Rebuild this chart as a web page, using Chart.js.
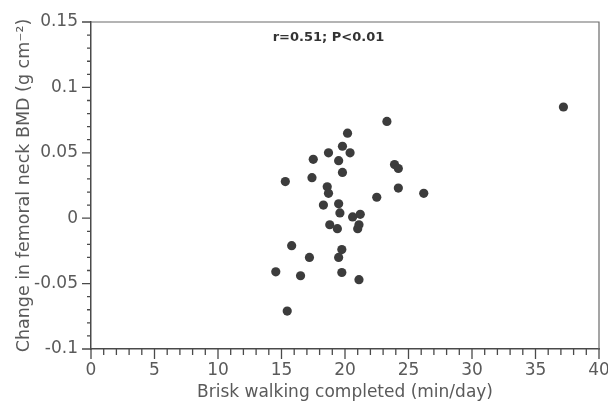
<!DOCTYPE html>
<html>
<head>
<meta charset="utf-8">
<script src="https://cdn.jsdelivr.net/npm/chart.js@4/dist/chart.umd.min.js"></script>
<style>
  html, body { margin: 0; padding: 0; background: #fff; }
  #wrap { width: 608px; height: 403px; }
</style>
</head>
<body>
<div id="wrap"><canvas id="c" width="608" height="403"></canvas></div>
<script>
// Brisk walking completed (min/day)
const walkMinutes = [15.3, 17.5, 18.7, 20.2, 19.8, 20.4, 19.5, 19.8, 17.4, 23.3, 23.9, 24.2, 24.2, 22.5, 26.2, 37.2,
  18.6, 18.7, 18.3, 19.5, 19.6, 20.6, 21.2, 21.1, 21.0, 18.8, 19.4, 15.8, 17.2, 16.5, 19.75, 19.5, 19.75, 21.1, 15.45, 14.55];
// Change in femoral neck BMD (g cm-2)
const bmdChange = [0.028, 0.045, 0.050, 0.065, 0.055, 0.050, 0.044, 0.035, 0.031, 0.074, 0.041, 0.038, 0.023, 0.016, 0.019, 0.085,
  0.024, 0.019, 0.010, 0.011, 0.004, 0.001, 0.003, -0.005, -0.008, -0.005, -0.008, -0.021, -0.030, -0.044, -0.024, -0.030, -0.0415, -0.047, -0.071, -0.041];

const xTickValues = [0, 5, 10, 15, 20, 25, 30, 35, 40];
const xTickLabels = ['0', '5', '10', '15', '20', '25', '30', '35', '40'];
const yTickValues = [-0.1, -0.05, 0, 0.05, 0.1, 0.15];
const yTickLabels = ['-0.1', '-0.05', '0', '0.05', '0.1', '0.15'];
const annotationText = 'r=0.51; P<0.01';

const points = walkMinutes.map((x, i) => ({ x: x, y: bmdChange[i] }));

const FONT = 'DejaVu Sans';
const TXT = '#5a5a5a';
const AX = '#4a4a4a';

const decor = {
  id: 'decor',
  afterDraw(chart) {
    const ctx = chart.ctx;
    const ca = chart.chartArea;
    const xs = chart.scales.x, ys = chart.scales.y;
    ctx.save();
    // frame top & right
    ctx.strokeStyle = '#6a6a6a';
    ctx.lineWidth = 1.2;
    ctx.beginPath();
    ctx.moveTo(ca.left, ca.top);
    ctx.lineTo(ca.right, ca.top);
    ctx.lineTo(ca.right, ca.bottom);
    ctx.stroke();
    // ticks
    ctx.strokeStyle = AX;
    ctx.lineWidth = 1.3;
    ctx.beginPath();
    for (let v = 0; v <= 40; v++) {
      const px = xs.getPixelForValue(v);
      const len = (v % 5 === 0) ? 10 : 6;
      ctx.moveTo(px, ca.bottom);
      ctx.lineTo(px, ca.bottom + len);
    }
    for (let k = -10; k <= 15; k++) {
      const py = ys.getPixelForValue(k / 100);
      const len = (k % 5 === 0) ? 9 : 4;
      ctx.moveTo(ca.left, py);
      ctx.lineTo(ca.left - len, py);
    }
    ctx.stroke();
    // annotation
    ctx.fillStyle = '#333';
    ctx.font = 'bold 13px "' + FONT + '"';
    ctx.textAlign = 'center';
    ctx.textBaseline = 'middle';
    ctx.fillText(annotationText, xs.getPixelForValue(18.7), ys.getPixelForValue(0.138));
    ctx.restore();
  }
};

new Chart(document.getElementById('c'), {
  type: 'scatter',
  data: {
    datasets: [{
      data: points,
      pointRadius: 4.6,
      pointHoverRadius: 4.6,
      backgroundColor: '#3c3c3c',
      borderWidth: 0
    }]
  },
  options: {
    responsive: false,
    animation: false,
    devicePixelRatio: 1,
    layout: { padding: { top: 22, right: 9, left: 0, bottom: 0 } },
    plugins: { legend: { display: false }, tooltip: { enabled: false } },
    scales: {
      x: {
        type: 'linear',
        min: 0, max: 40,
        afterFit(s) { s.height = 54; s.paddingLeft = 0; s.paddingRight = 0; },
        afterBuildTicks(s) { s.ticks = xTickValues.map(v => ({ value: v })); },
        ticks: {
          padding: 11,
          color: TXT,
          font: { family: FONT, size: 17 },
          maxRotation: 0,
          autoSkip: false,
          callback(v) { const i = xTickValues.indexOf(v); return i >= 0 ? xTickLabels[i] : ''; }
        },
        grid: { display: true, drawOnChartArea: false, drawTicks: false },
        border: { display: true, color: AX, width: 1.5 },
        title: {
          display: true,
          text: 'Brisk walking completed (min/day)',
          color: TXT,
          font: { family: FONT, size: 17 },
          padding: { top: 0, bottom: 0 }
        }
      },
      y: {
        type: 'linear',
        min: -0.1, max: 0.15,
        afterFit(s) { s.width = 91; s.paddingTop = 0; s.paddingBottom = 0; },
        afterBuildTicks(s) { s.ticks = yTickValues.map(v => ({ value: v })); },
        ticks: {
          padding: 13,
          color: TXT,
          font: { family: FONT, size: 17 },
          autoSkip: false,
          callback(v) {
            let idx = -1;
            yTickValues.forEach((t, i) => { if (Math.abs(t - v) < 1e-9) idx = i; });
            return idx >= 0 ? yTickLabels[idx] : '';
          }
        },
        grid: { display: true, drawOnChartArea: false, drawTicks: false },
        border: { display: true, color: AX, width: 1.5 },
        title: {
          display: true,
          text: 'Change in femoral neck BMD (g cm\u207B\u00B2)',
          color: TXT,
          font: { family: FONT, size: 17.5 },
          padding: { top: 14, bottom: 0 }
        }
      }
    }
  },
  plugins: [decor]
});
</script>
</body>
</html>
